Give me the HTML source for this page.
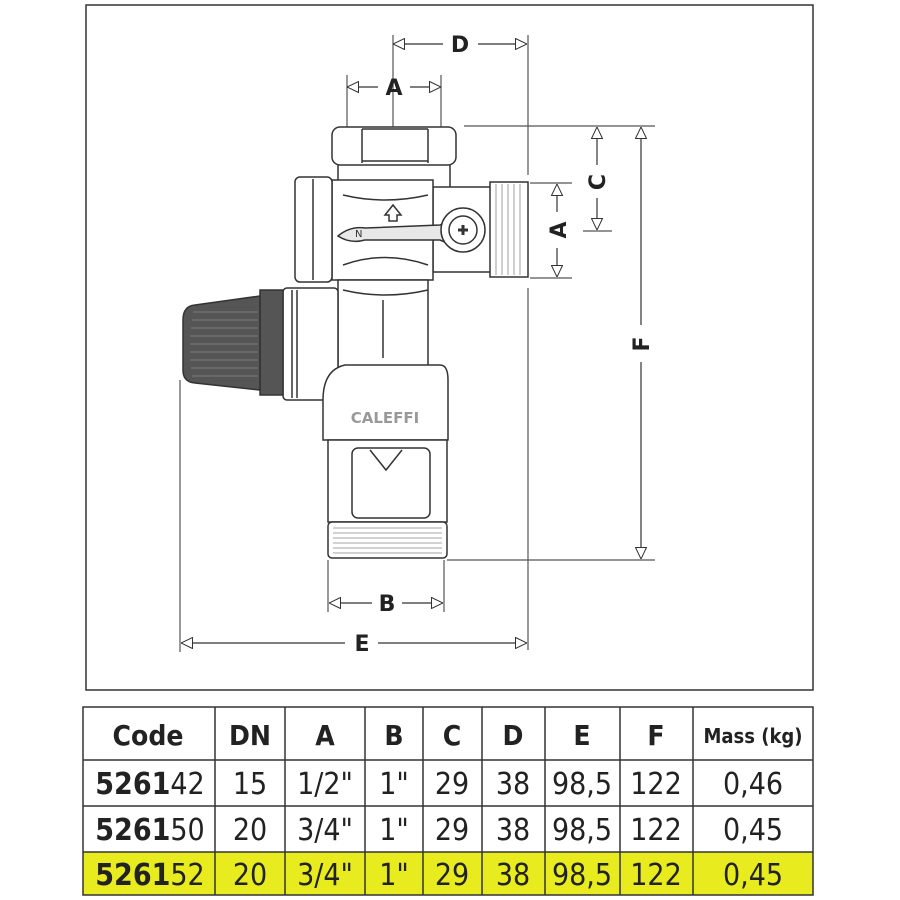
<!DOCTYPE html>
<html><head><meta charset="utf-8"><style>
body{margin:0;background:#fff;width:900px;height:900px;overflow:hidden;font-family:"DejaVu Sans","Liberation Sans",sans-serif}
svg{position:absolute;left:0;top:0}
</style></head><body>
<svg width="900" height="900" viewBox="0 0 900 900" xmlns="http://www.w3.org/2000/svg">
<defs>
<marker id="ar" viewBox="0 0 12 12" refX="12" refY="6" markerWidth="12" markerHeight="12" orient="auto-start-reverse" markerUnits="userSpaceOnUse">
<path d="M0.5,0.5 L12,6 L0.5,11.5 Z" fill="#fff" stroke="#333" stroke-width="1"/>
</marker>
</defs>
<rect x="86" y="5" width="727" height="685" fill="none" stroke="#333" stroke-width="1.5"/>
<g stroke="#555" stroke-width="1.2" fill="none">
<!-- extension lines -->
<line x1="347" y1="75" x2="347" y2="128"/><line x1="441" y1="75" x2="441" y2="128"/>
<line x1="393" y1="35" x2="393" y2="128"/><line x1="528" y1="35" x2="528" y2="175"/>
<line x1="528" y1="288" x2="528" y2="650"/>
<line x1="464" y1="126" x2="655" y2="126"/>
<line x1="530" y1="183" x2="572" y2="183"/><line x1="530" y1="278" x2="572" y2="278"/>
<line x1="583" y1="231" x2="612" y2="231"/>
<line x1="447" y1="560" x2="655" y2="560"/>
<line x1="328" y1="560" x2="328" y2="612"/><line x1="444" y1="560" x2="444" y2="612"/>
<line x1="180" y1="380" x2="180" y2="652"/>
</g>
<g stroke="#333" stroke-width="1.2" fill="none">
<line x1="393" y1="44" x2="443" y2="44" marker-start="url(#ar)"/><line x1="478" y1="44" x2="527" y2="44" marker-end="url(#ar)"/>
<line x1="347" y1="87" x2="378" y2="87" marker-start="url(#ar)"/><line x1="410" y1="87" x2="441" y2="87" marker-end="url(#ar)"/>
<line x1="597" y1="127" x2="597" y2="165" marker-start="url(#ar)"/><line x1="597" y1="198" x2="597" y2="230" marker-end="url(#ar)"/>
<line x1="557" y1="184" x2="557" y2="212" marker-start="url(#ar)"/><line x1="557" y1="248" x2="557" y2="277" marker-end="url(#ar)"/>
<line x1="641" y1="127" x2="641" y2="325" marker-start="url(#ar)"/><line x1="641" y1="362" x2="641" y2="559" marker-end="url(#ar)"/>
<line x1="329" y1="603" x2="372" y2="603" marker-start="url(#ar)"/><line x1="402" y1="603" x2="443" y2="603" marker-end="url(#ar)"/>
<line x1="181" y1="643" x2="345" y2="643" marker-start="url(#ar)"/><line x1="378" y1="643" x2="527" y2="643" marker-end="url(#ar)"/>
</g>
<g font-family="DejaVu Sans,Liberation Sans,sans-serif" font-weight="bold" font-size="22" fill="#222" text-anchor="middle">
<text x="460" y="52">D</text><text x="394" y="95">A</text><text x="387" y="611">B</text><text x="362" y="651">E</text>
<text transform="translate(605,182) rotate(-90)">C</text>
<text transform="translate(566,230) rotate(-90)">A</text>
<text transform="translate(649,344) rotate(-90)">F</text>
</g>
<!-- valve -->
<g stroke="#333" stroke-width="1.5" fill="#fff">
<rect x="338" y="160" width="112" height="30" rx="4"/>
<rect x="332" y="127" width="124" height="38" rx="8"/>
<line x1="362" y1="129" x2="362" y2="163"/><line x1="428" y1="129" x2="428" y2="163"/>
<line x1="362" y1="129" x2="428" y2="129"/><line x1="362" y1="161" x2="428" y2="161"/>
<rect x="433" y="187" width="60" height="85"/>
<rect x="332" y="180" width="101" height="100"/>
<rect x="295" y="177" width="37" height="105" rx="5"/>
<line x1="313" y1="179" x2="313" y2="280"/>
<rect x="490" y="182" width="38" height="95"/>
<path d="M338 280 H428 V380 H338 Z"/>
<path d="M343 195 Q385 205 428 195 M343 265 Q385 250 428 265 M343 290 Q385 300 428 290"/>
<line x1="383" y1="300" x2="383" y2="358"/>
<path d="M338 236 Q350 226 365 228 L440 225 L463 213 L463 250 L440 240 L365 240 Q350 244 338 236 Z" fill="#e8e8e8"/>
<circle cx="463" cy="230" r="22"/><circle cx="463" cy="230" r="14"/>
<path d="M458 230 h10 M463 225 v10" stroke-width="3"/>
<path d="M385 215 l8 -10 l8 10 h-4 v6 h-8 v-6 Z" fill="#fff"/>
<rect x="283" y="288" width="55" height="112" rx="4"/>
<line x1="292" y1="290" x2="292" y2="398"/><line x1="297" y1="290" x2="297" y2="398"/>
<rect x="260" y="290" width="23" height="105" fill="#555"/>
<path d="M260 296 L195 305 Q183 306 183 320 L183 370 Q183 382 195 383 L260 390 Z" fill="#555"/>
<path d="M323 400 Q323 370 345 365 L440 365 Q448 365 448 380 V440 H323 Z"/>
<rect x="328" y="440" width="119" height="82"/>
<rect x="352" y="448" width="78" height="70" rx="6"/>
<path d="M370 450 L386 470 L402 450" fill="none"/>
<rect x="328" y="522" width="119" height="36" rx="4"/>
</g>
<g stroke="#888" stroke-width="0.8">
<path d="M193 312 H258 M192 320 H258 M191 328 H258 M190 336 H258 M190 344 H258 M190 352 H258 M190 360 H258 M191 368 H258 M192 376 H258"/>
<path d="M333 528 H442 M333 533 H442 M333 538 H442 M333 543 H442 M333 548 H442 M333 553 H442"/>
<path d="M496 184 V275 M502 184 V275 M508 184 V275 M514 184 V275 M520 184 V275"/>
</g>
<text x="385" y="423" font-family="DejaVu Sans,Liberation Sans,sans-serif" font-weight="bold" font-size="15" fill="#999" text-anchor="middle">CALEFFI</text>
<text x="355" y="237" font-size="10" fill="#333" font-family="DejaVu Sans,sans-serif">N</text>
<!-- table -->
<rect x="83" y="852" width="730" height="43" fill="#e8ec1e"/>
<g stroke="#333" stroke-width="1.5" fill="none">
<rect x="83" y="707" width="730" height="188"/>
<line x1="83" y1="760" x2="813" y2="760"/><line x1="83" y1="806" x2="813" y2="806"/><line x1="83" y1="852" x2="813" y2="852"/>
<line x1="215" y1="707" x2="215" y2="895"/><line x1="285" y1="707" x2="285" y2="895"/><line x1="365" y1="707" x2="365" y2="895"/>
<line x1="423" y1="707" x2="423" y2="895"/><line x1="482" y1="707" x2="482" y2="895"/><line x1="545" y1="707" x2="545" y2="895"/>
<line x1="620" y1="707" x2="620" y2="895"/><line x1="693" y1="707" x2="693" y2="895"/>
</g>
<g font-family="DejaVu Sans Condensed,DejaVu Sans,sans-serif" fill="#222" text-anchor="middle">
<g font-weight="bold" font-size="28">
<text x="148" y="745">Code</text><text x="250" y="745">DN</text><text x="325" y="745">A</text><text x="394" y="745">B</text>
<text x="452" y="745">C</text><text x="513" y="745">D</text><text x="582" y="745">E</text><text x="656" y="745">F</text>
<text x="753" y="743" font-size="20">Mass (kg)</text>
</g>
<g font-size="30" font-weight="200" font-family="DejaVu Sans Condensed,DejaVu Sans,sans-serif">
<text x="150" y="794"><tspan font-weight="bold">5261</tspan>42</text><text x="250" y="794">15</text><text x="325" y="794">1/2"</text><text x="394" y="794">1"</text><text x="452" y="794">29</text><text x="513" y="794">38</text><text x="582" y="794">98,5</text><text x="656" y="794">122</text><text x="753" y="794">0,46</text>
<text x="150" y="840"><tspan font-weight="bold">5261</tspan>50</text><text x="250" y="840">20</text><text x="325" y="840">3/4"</text><text x="394" y="840">1"</text><text x="452" y="840">29</text><text x="513" y="840">38</text><text x="582" y="840">98,5</text><text x="656" y="840">122</text><text x="753" y="840">0,45</text>
<text x="150" y="885"><tspan font-weight="bold">5261</tspan>52</text><text x="250" y="885">20</text><text x="325" y="885">3/4"</text><text x="394" y="885">1"</text><text x="452" y="885">29</text><text x="513" y="885">38</text><text x="582" y="885">98,5</text><text x="656" y="885">122</text><text x="753" y="885">0,45</text>
</g>
</g>
</svg>
</body></html>
